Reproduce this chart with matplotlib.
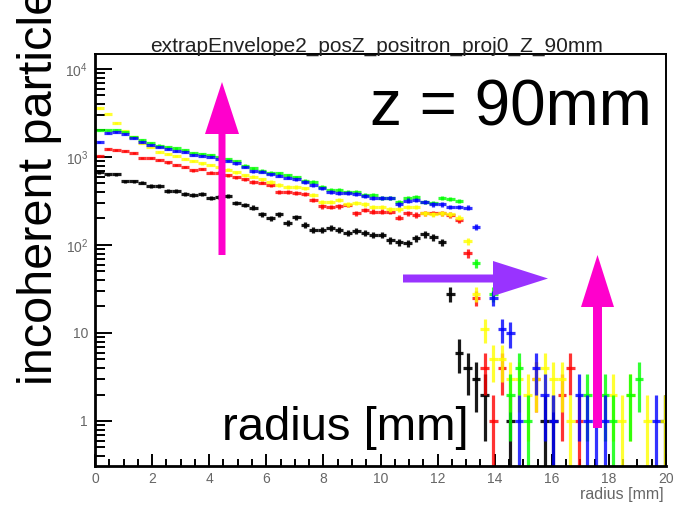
import matplotlib
matplotlib.use('Agg')
import matplotlib.pyplot as plt
from matplotlib.patches import FancyArrow
from matplotlib.ticker import FixedLocator, FixedFormatter, LogLocator, MultipleLocator, NullFormatter
import numpy as np

plt.rcParams['font.family'] = ['Liberation Sans', 'DejaVu Sans']
plt.rcParams['mathtext.fontset'] = 'custom'
plt.rcParams['mathtext.rm'] = 'Liberation Sans'

nan = np.nan

# histogram binning (radius in mm)
bin_width = 0.3
n_bins = 67

# bin contents, one list per sample
black = [675, 640, 640, 530, 530, 510, 470, 470, 410, 410,
         380, 370, 380, 340, 350, 360, 300, 285, 265, 225,
         200, 225, 177, 207, 170, 148, 148, 155, 148, 137,
         145, 137, 130, 130, 114, 108, 105, 120, 133, 123,
         108, 28, 6, 4, 3, 2, nan, nan, 1, nan,
         nan, nan, 1, 1, nan, nan, nan, nan, nan, nan,
         nan, nan, nan, nan, nan, nan, 1]
red = [1030, 1230, 1190, 1170, 1110, 980, 980, 920, 870, 810,
       770, 710, 730, 660, 660, 620, 590, 560, 520, 510,
       480, 400, 400, 390, 380, 325, 275, 270, 275, 285,
       230, 250, 240, 240, 240, 205, 230, 220, 230, 230,
       230, 220, 190, 81, 25, 4, 1, 4, nan, nan,
       nan, 3, nan, nan, 2, 4, 1, nan, nan, nan,
       nan, nan, nan, nan, nan, nan, nan]
yellow = [3600, 3100, 2430, 1975, 1690, 1440, 1300, 1140, 1080, 1030,
          950, 900, 850, 810, 770, 720, 675, 620, 600, 560,
          520, 480, 455, 455, 440, 370, 310, 310, 325, 290,
          300, 290, 270, 270, 255, 255, 270, 270, 230, 225,
          230, 225, 205, 110, 28, 11, 5, 5, 3, 3,
          2, 3, 4, 3, 3, 1, nan, nan, nan, nan,
          2, 1, 2, nan, 1, nan, 1]
green = [2000, 2000, 2050, 1900, 1700, 1550, 1450, 1350, 1300, 1250,
         1200, 1120, 1080, 1050, 1000, 950, 900, 800, 740, 700,
         660, 650, 620, 590, 540, 520, 460, 420, 420, 400,
         400, 370, 370, 340, 340, 310, 340, 350, 310, 300,
         340, 335, 316, nan, 62, nan, 28, nan, 2, 4,
         1, nan, nan, nan, nan, nan, nan, 2, nan, 2,
         1, nan, 2, 3, nan, nan, nan]
blue = [1480, 1870, 1930, 1830, 1650, 1480, 1380, 1290, 1230, 1170,
        1140, 1060, 1030, 1000, 950, 900, 850, 770, 690, 680,
        640, 610, 580, 560, 520, 480, 440, 400, 390, 390,
        380, 360, 340, 340, 340, 290, 320, 325, 310, 290,
        290, 270, 270, 265, 160, nan, 25, 11, 10, 1,
        nan, 4, 2, 1, nan, nan, 2, 1, 1, 1,
        nan, nan, nan, nan, nan, 1, nan]

series = [(black, '#000000'), (red, '#ff0000'), (yellow, '#ffff00'),
          (green, '#00ff00'), (blue, '#0000ff')]

y_ticks = [1, 10, 100, 1000, 10000]
y_labels = ['1', '10', '$10^{2}$', '$10^{3}$', '$10^{4}$']

title = 'extrapEnvelope2_posZ_positron_proj0_Z_90mm'

W, H = 676, 505
fig = plt.figure(figsize=(W / 100, H / 100), dpi=100)
ax = fig.add_axes([95 / W, 1 - 466 / H, (666 - 95) / W, (466 - 54) / H])
ax.set_yscale('log')
ax.set_xlim(0, 20)
ax.set_ylim(0.308, 14800)

centers = np.arange(n_bins) * bin_width + bin_width / 2
for vals, col in series:
    v = np.array(vals, float)
    m = ~np.isnan(v)
    err = np.sqrt(v[m])
    lo = np.minimum(err, v[m] - 1e-3)
    ax.errorbar(centers[m], v[m], xerr=bin_width / 2, yerr=[lo, err],
                fmt='none', ecolor=col, elinewidth=2.3, capsize=0,
                alpha=0.8 if col != '#000000' else 0.9)

# ROOT-like axes
ax.yaxis.set_major_locator(FixedLocator(y_ticks))
ax.yaxis.set_major_formatter(FixedFormatter(y_labels))
ax.yaxis.set_minor_locator(LogLocator(base=10, subs=np.arange(2, 10), numticks=20))
ax.yaxis.set_minor_formatter(NullFormatter())
ax.xaxis.set_major_locator(MultipleLocator(2))
ax.xaxis.set_minor_locator(MultipleLocator(0.5))
ax.tick_params(which='both', direction='in', top=False, right=False,
               width=1.4, colors='#000000', labelcolor='#666666', labelsize=10)
ax.tick_params(axis='y', which='major', length=12, pad=5)
ax.tick_params(axis='y', which='minor', length=7)
ax.tick_params(axis='x', which='major', length=8.5, pad=4)
ax.tick_params(axis='x', which='minor', length=5)
for s in ['left', 'bottom']:
    ax.spines[s].set_linewidth(2.0)
for s in ['top', 'right']:
    ax.spines[s].set_linewidth(1.4)

# overlay in pixel coordinates for the annotations
ov = fig.add_axes([0, 0, 1, 1])
ov.set_xlim(0, W)
ov.set_ylim(H, 0)
ov.axis('off')
ov.patch.set_alpha(0)

ov.text(377, 46, title, fontsize=15, ha='center', va='center', color='#222222')
ov.text(664, 494, 'radius [mm]', fontsize=11.5, ha='right', va='center', color='#666666')

magenta = '#ff00cc'
purple = '#9933ff'
ov.add_patch(FancyArrow(222, 255, 0, -173, width=7, head_width=34, head_length=52,
                        length_includes_head=True, color=magenta, lw=0))
ov.add_patch(FancyArrow(597.5, 428, 0, -173, width=9, head_width=33, head_length=52,
                        length_includes_head=True, color=magenta, lw=0))
ov.add_patch(FancyArrow(403, 278.5, 145, 0, width=8, head_width=35, head_length=55,
                        length_includes_head=True, color=purple, lw=0))

ov.text(370, 125, 'z = 90mm', fontsize=46, ha='left', va='baseline')
ov.text(222, 440, 'radius [mm]', fontsize=34, ha='left', va='baseline')
ov.text(52, 385, 'incoherent particles', fontsize=35, rotation=90,
        rotation_mode='anchor', ha='left', va='baseline')

fig.savefig('out.png', dpi=100)
